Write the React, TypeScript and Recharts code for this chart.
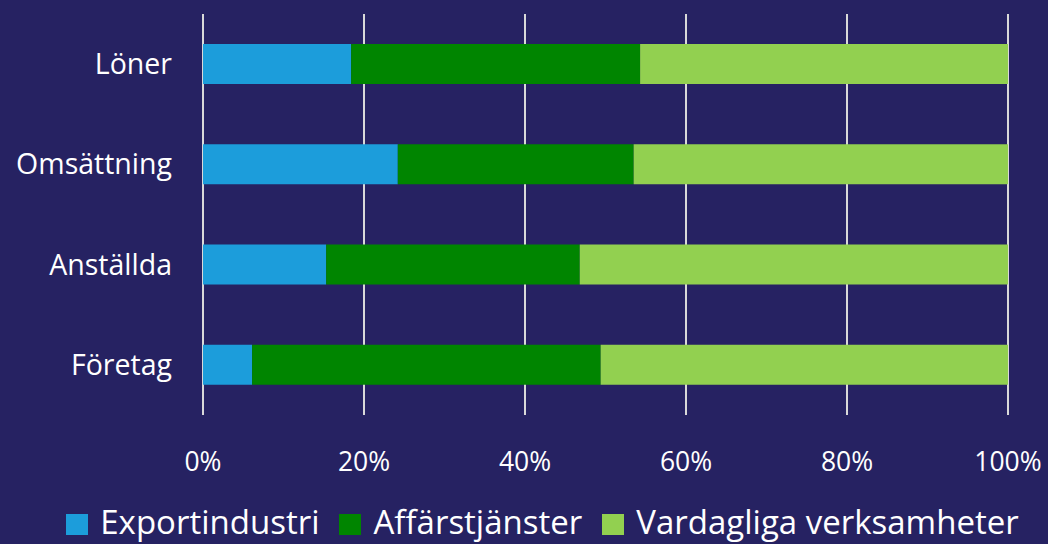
import React from 'react';
import { BarChart, Bar, XAxis, YAxis, CartesianGrid, Legend } from 'recharts';

// Andelar i procent per kategori
const categories = ['Löner', 'Omsättning', 'Anställda', 'Företag'];
const exportindustri = [18.4, 24.2, 15.3, 6.1];
const affarstjanster = [35.9, 29.3, 31.5, 43.3];
const vardagliga = [45.7, 46.5, 53.2, 50.6];
const xTicks = [0, 20, 40, 60, 80, 100];

const BG = '#262262';
const FONT = '"Source Sans Pro", "Open Sans", sans-serif';

const series = [
  { key: 'exp', name: 'Exportindustri', color: '#1C9DDB' },
  { key: 'aff', name: 'Affärstjänster', color: '#008500' },
  { key: 'var', name: 'Vardagliga verksamheter', color: '#92D050' },
];

const LegendBox = () => (
  <div
    style={{
      height: 50,
      boxSizing: 'border-box',
      paddingTop: 11,
      paddingLeft: 37,
      display: 'flex',
      justifyContent: 'center',
      alignItems: 'flex-start',
      gap: 20,
      fontFamily: FONT,
      fontSize: 33,
      lineHeight: 1,
      color: '#FFFFFF',
      whiteSpace: 'nowrap',
    }}
  >
    {series.map((s) => (
      <div key={s.key} style={{ display: 'flex', alignItems: 'flex-start' }}>
        <span style={{ width: 22, height: 21, marginTop: 9, marginRight: 12, background: s.color, display: 'inline-block' }} />
        <span>{s.name}</span>
      </div>
    ))}
  </div>
);

export default function App() {
  const data = React.useMemo(
    () =>
      categories.map((c, i) => ({
        name: c,
        exp: exportindustri[i],
        aff: affarstjanster[i],
        var: vardagliga[i],
      })),
    []
  );

  return (
    <div style={{ position: 'absolute', left: 0, top: 0, width: 1048, height: 544, background: BG, fontFamily: FONT }}>
      <BarChart
        width={1048}
        height={544}
        data={data}
        layout="vertical"
        margin={{ top: 14, right: 40, bottom: 0, left: 0 }}
        barCategoryGap={30}
      >
        <CartesianGrid horizontal={false} stroke="#D9D9D9" strokeWidth={2} />
        <XAxis
          type="number"
          domain={[0, 100]}
          ticks={xTicks}
          tickFormatter={(v) => `${v}%`}
          axisLine={false}
          tickLine={false}
          tickSize={0}
          tickMargin={37}
          height={79}
          tick={{ fill: '#FFFFFF', fontSize: 26.5, fontFamily: FONT }}
        />
        <YAxis
          type="category"
          dataKey="name"
          width={203}
          axisLine={false}
          tickLine={false}
          tickSize={0}
          tickMargin={31}
          tick={{ fill: '#FFFFFF', fontSize: 28.5, fontFamily: FONT }}
        />
        <Legend
          verticalAlign="bottom"
          content={<LegendBox />}
          wrapperStyle={{ left: 0, width: 1048, bottom: 0, height: 50 }}
        />
        {series.map((s) => (
          <Bar key={s.key} dataKey={s.key} name={s.name} stackId="a" fill={s.color} isAnimationActive={false} />
        ))}
      </BarChart>
    </div>
  );
}
